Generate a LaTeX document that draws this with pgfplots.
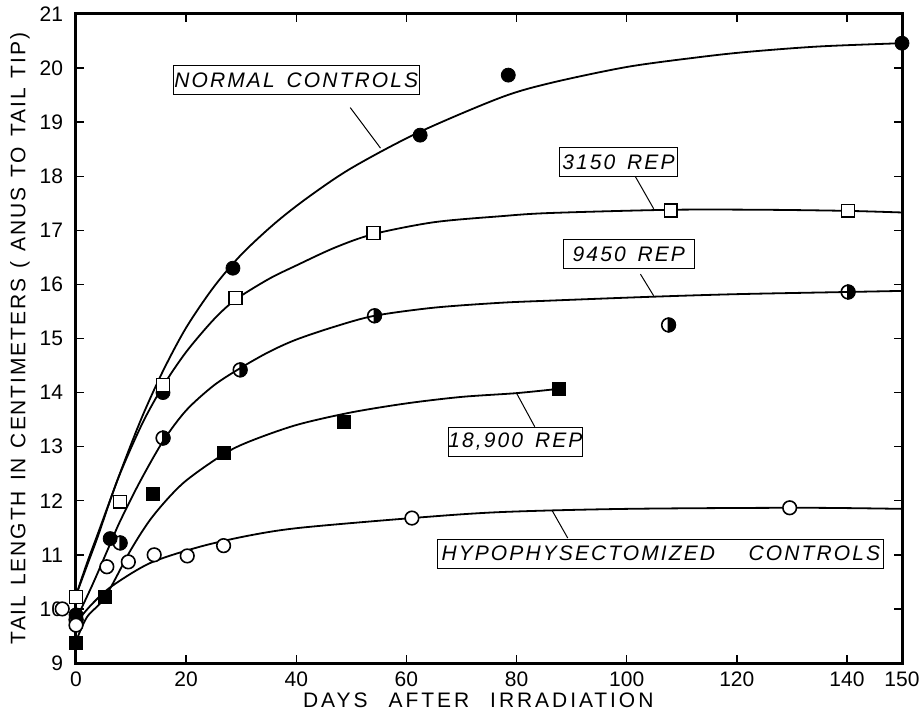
\documentclass[border=0pt]{standalone}
\usepackage{fontspec}
\setmainfont{Liberation Sans}
\newfontfamily\axfont[LetterSpace=14,WordSpace=2.4]{Liberation Sans}
\newfontfamily\ayfont[LetterSpace=9,WordSpace=1.3]{Liberation Sans}
\newfontfamily\lblfont[LetterSpace=10,WordSpace=1.5]{Liberation Sans}
\usepackage{pgfplots}
\pgfplotsset{compat=1.18}

\pgfdeclareplotmark{halfcirc}{%
  \pgfpathmoveto{\pgfqpoint{0pt}{\pgfplotmarksize}}%
  \pgfpatharc{90}{-90}{\pgfplotmarksize}%
  \pgfpathclose
  \pgfusepathqfillstroke
  \pgfpathcircle{\pgfpointorigin}{\pgfplotmarksize}%
  \pgfusepathqstroke
}

\begin{document}
\begin{tikzpicture}
\begin{axis}[
  scale only axis,
  width=413pt, height=324.5pt,
  xmin=0, xmax=150, ymin=9, ymax=21,
  xtick={0,20,...,140,150},
  ytick={9,10,...,21},
  tick align=inside,
  major tick length=4pt,
  axis line style={line width=1.5pt},
  every tick/.style={black, line width=0.7pt},
  tick label style={font=\fontsize{10.5}{12}\selectfont},
  /pgf/number format/assume math mode=true,
  xticklabel style={yshift=-1pt},
  yticklabel style={xshift=-3pt},
  clip=false,
  xlabel={\axfont DAYS AFTER IRRADIATION},
  ylabel={\ayfont TAIL LENGTH IN CENTIMETERS ( ANUS TO TAIL TIP)},
  xlabel style={at={(axis description cs:0.487,-0.057)}, anchor=center, font=\fontsize{10.5}{12}\selectfont},
  ylabel style={at={(axis description cs:-0.068,0.5)}, anchor=center, font=\fontsize{10.5}{12}\selectfont},
]
% ---- fitted curves ----
\addplot[black, line width=0.9pt, smooth] coordinates {
 (0,10.25) (2,10.85) (4,11.4) (8.4,12.62) (12,13.55) (15.8,14.4) (20,15.2) (25,15.95)
 (30,16.55) (36,17.12) (42,17.6) (50,18.15) (62,18.8) (77,19.45) (86,19.72) (100,20.02)
 (113,20.2) (122,20.3) (135,20.4) (150,20.46)};
\addplot[black, line width=0.9pt, smooth] coordinates {
 (0,10.25) (2,10.8) (4,11.35) (7.6,12.4) (12,13.42) (15.8,14.12) (20,14.75) (25,15.35)
 (29,15.72) (35,16.1) (40,16.35) (47,16.68) (54,16.93) (65,17.15) (77,17.26) (86,17.32)
 (108,17.38) (125,17.38) (140,17.36) (150,17.33)};
\addplot[black, line width=0.9pt, smooth] coordinates {
 (0,9.8) (3,10.45) (6.2,11.2) (8,11.62) (11.6,12.35) (15.8,13.1) (20,13.67) (25,14.13)
 (29.8,14.45) (35,14.75) (40,14.98) (47,15.22) (54.2,15.42) (65,15.57) (77,15.66) (86,15.7) (104,15.77)
 (120,15.82) (140,15.86) (150,15.88)};
\addplot[black, line width=0.9pt, smooth] coordinates {
 (0,9.4) (2,9.85) (5.3,10.22) (10,11.1) (14,11.72) (19.5,12.33) (26.8,12.86)
 (31.6,13.1) (40,13.4) (49.8,13.63) (60,13.8) (70,13.92) (80,13.99) (87.7,14.07)};
\addplot[black, line width=0.9pt, smooth] coordinates {
 (0,9.75) (3,10.1) (6.5,10.42) (13.5,10.85) (22.5,11.15) (31.6,11.36) (40.7,11.5)
 (61,11.68) (77,11.79) (100,11.85) (131.6,11.87) (150,11.85)};
% ---- data points ----
% normal controls
\addplot[only marks, mark=*, mark size=3.5pt, mark options={fill=black, draw=black}] coordinates {
 (0,9.89) (6.2,11.3) (15.8,14.0) (28.5,16.3) (62.5,18.76) (78.5,19.87) (150,20.46)};
% 3150 rep
\addplot[only marks, mark=square*, mark size=3.2pt, mark options={fill=white, draw=black, line width=0.8pt}] coordinates {
 (0,10.22) (8,11.98) (15.8,14.14) (29,15.75) (54,16.95) (108,17.37) (140.2,17.36)};
% 9450 rep
\addplot[only marks, mark=halfcirc, mark size=3.4pt, mark options={fill=black, draw=black, line width=0.8pt}] coordinates {
 (0,9.8) (8,11.22) (15.8,13.16) (29.8,14.42) (54.2,15.42) (107.6,15.25) (140.2,15.86)};
% 18900 rep
\addplot[only marks, mark=square*, mark size=3.2pt, mark options={fill=black, draw=black}] coordinates {
 (0,9.37) (5.3,10.22) (14,12.13) (26.8,12.88) (48.7,13.46) (87.7,14.07)};
% hypophysectomized
\addplot[only marks, mark=*, mark size=3.4pt, mark options={fill=white, draw=black, line width=0.8pt}] coordinates {
 (-2.5,10.0) (0,9.7) (5.6,10.78) (9.5,10.87) (14.2,11.0) (20.2,10.98) (26.8,11.17)
 (61,11.68) (129.6,11.87)};
% ---- labels ----
\draw[line width=0.5pt] (axis cs:49.8,19.27) -- (axis cs:55.3,18.52);
\draw[line width=0.5pt] (axis cs:101.6,17.99) -- (axis cs:104.9,17.4);
\draw[line width=0.5pt] (axis cs:102.5,16.19) -- (axis cs:104.9,15.79);
\draw[line width=0.5pt] (axis cs:83.3,13.37) -- (axis cs:80,13.99);
\draw[line width=0.5pt] (axis cs:89.3,11.31) -- (axis cs:86.4,11.83);
\tikzset{lbl/.style={draw, line width=0.6pt, fill=white, minimum height=14.5pt, inner sep=0pt, font=\lblfont\itshape\fontsize{10.5}{12}\selectfont}}
\node[lbl, minimum width=123pt] at (axis cs:40,19.78) {NORMAL CONTROLS};
\node[lbl, minimum width=59pt] at (axis cs:98.5,18.26) {3150 REP};
\node[lbl, minimum width=65.5pt] at (axis cs:100.4,16.56) {9450 REP};
\node[lbl, minimum width=64.5pt] at (axis cs:79.8,13.09) {18,900 REP};
\node[lbl, minimum width=223pt] at (axis cs:106.2,11.02) {HYPOPHYSECTOMIZED\hspace{1.6em}CONTROLS};
\end{axis}
\pgfresetboundingbox
\path[use as bounding box] (-38pt,-25pt) rectangle (422pt,331.5pt);
\end{tikzpicture}
\end{document}
